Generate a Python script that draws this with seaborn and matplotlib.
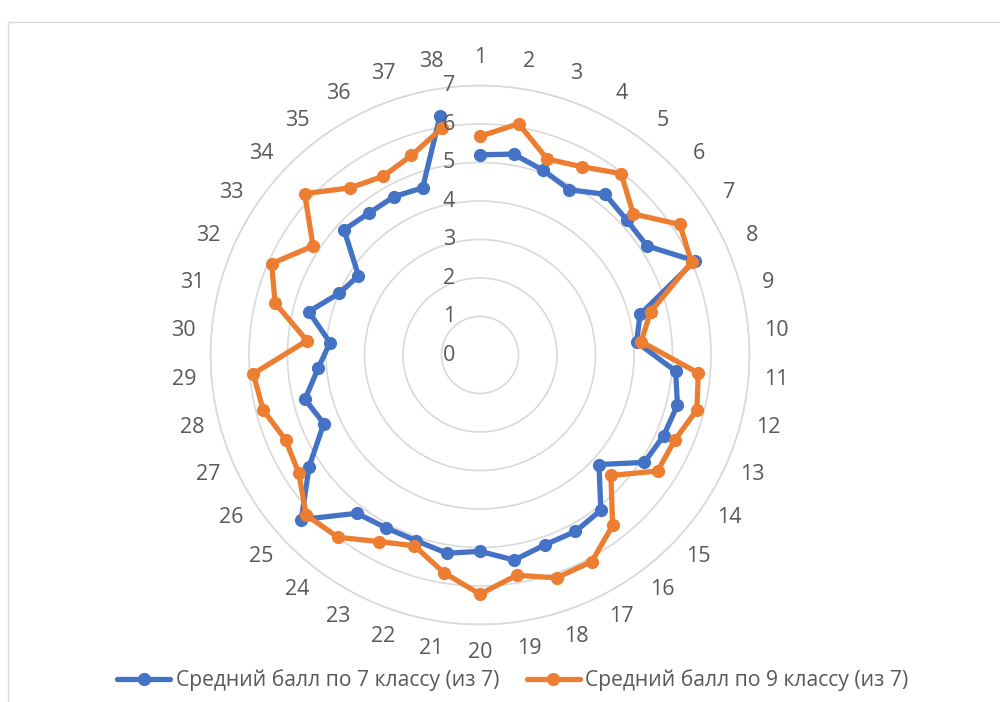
import numpy as np
import pandas as pd
import matplotlib
matplotlib.use("Agg")
import matplotlib.pyplot as plt
import matplotlib.transforms as mtransforms
from matplotlib.patches import Rectangle
import seaborn as sns

# Data
categories = [str(i) for i in range(1, 39)]
grade7 = [5.2, 5.29, 5.07, 4.88, 5.29, 5.18, 5.18, 6.09, 4.29, 4.08,
          5.1, 5.29, 5.21, 5.1, 4.2, 5.11, 5.21, 5.21, 5.4, 5.1,
          5.22, 5.1, 5.11, 5.21, 6.31, 5.3, 4.43, 4.69, 4.22, 3.91,
          4.59, 3.99, 3.77, 4.8, 4.68, 4.68, 4.59, 6.3]
grade9 = [5.68, 6.09, 5.38, 5.56, 5.97, 5.41, 6.2, 6.0, 4.57, 4.2,
          5.69, 5.81, 5.52, 5.51, 4.62, 5.61, 6.1, 6.12, 5.8, 6.21,
          5.73, 5.24, 5.51, 6.0, 6.14, 5.62, 5.51, 5.81, 5.91, 4.51,
          5.49, 5.91, 5.18, 6.19, 5.5, 5.28, 5.48, 5.98]
series_names = ["Средний балл по 7 классу (из 7)", "Средний балл по 9 классу (из 7)"]
r_ticks = list(range(0, 8))

colors = ["#4472C4", "#ED7D31"]
text_color = "#595959"
grid_color = "#D9D9D9"

sns.set_theme(style="white")
plt.rcParams['font.family'] = ['Open Sans', 'DejaVu Sans']

fig = plt.figure(figsize=(10, 7.02), dpi=100)
# chart area border
fig.patches.append(Rectangle((8 / 1000, -0.1), 1.1, 1 - 22 / 702 + 0.1,
                             transform=fig.transFigure, fill=False,
                             edgecolor=grid_color, linewidth=1))

ax = fig.add_axes([0.2105, 0.1104, 0.539, 0.7678], projection="polar")
ax.set_theta_zero_location("N")
ax.set_theta_direction(-1)

n = len(categories)
angles = np.arange(n) * 2 * np.pi / n

for name, vals, col in zip(series_names, [grade7, grade9], colors):
    df = pd.DataFrame({"theta": np.append(angles, angles[0]),
                       "value": np.append(vals, vals[0])})
    sns.lineplot(data=df, x="theta", y="value", ax=ax, sort=False,
                 color=col, linewidth=3.8, marker="o", markersize=9.5,
                 markeredgewidth=0, label=name)

ax.set_ylim(0, 7)
ax.set_yticks(r_ticks)
ax.set_yticklabels([])
ax.set_xticks(angles)
ax.set_xticklabels([])
ax.xaxis.grid(False)
ax.yaxis.grid(True, color=grid_color, linewidth=1.2)
ax.spines["polar"].set_color(grid_color)
ax.spines["polar"].set_linewidth(1.2)
ax.set_xlabel("")
ax.set_ylabel("")

# radial value labels, left of the top axis
off = mtransforms.offset_copy(ax.transData, fig=fig, x=-31, y=0, units="dots")
for v in r_ticks:
    ax.text(0, v, str(v), transform=off, ha="center", va="center",
            fontsize=15.5, color=text_color)

# category labels round the outside
for a, lab in zip(angles, categories):
    ax.text(a, 7.72, lab, ha="center", va="center", fontsize=15.5,
            color=text_color, clip_on=False)

ax.legend_.remove()
handles, labels = ax.get_legend_handles_labels()
fig.legend(handles, labels, loc="center", bbox_to_anchor=(0.513, 0.031),
           ncol=2, frameon=False, fontsize=15.2, labelcolor=text_color,
           handlelength=2.5, columnspacing=1.3, handletextpad=0.28)

fig.savefig("out.png", dpi=100)
